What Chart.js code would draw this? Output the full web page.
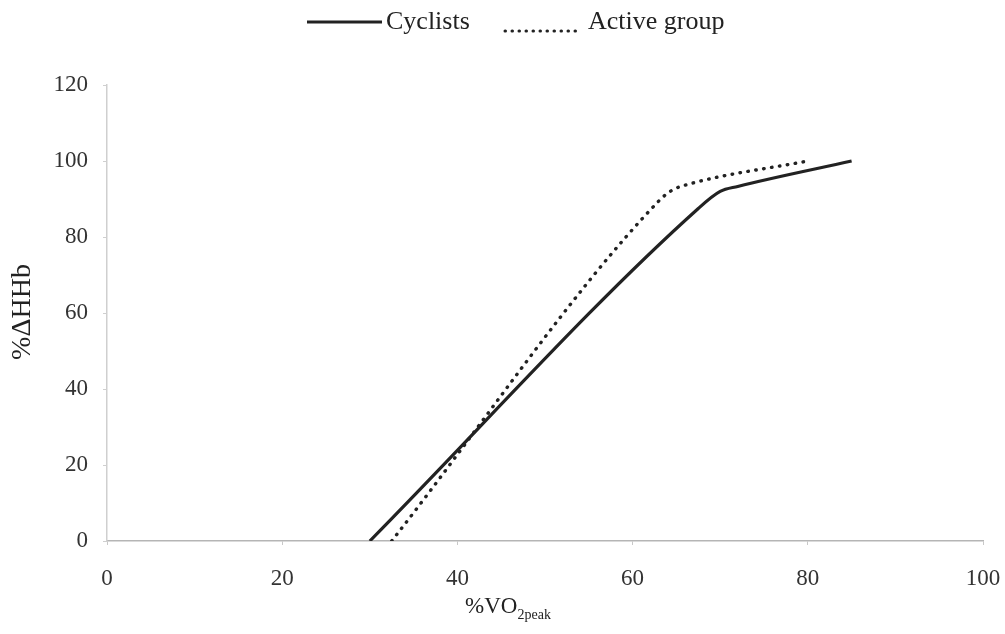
<!DOCTYPE html>
<html>
<head>
<meta charset="utf-8">
<script src="https://cdn.jsdelivr.net/npm/chart.js@4.4.0/dist/chart.umd.min.js"></script>
<style>
  html, body { margin: 0; padding: 0; background: #fff; }
  #wrap { width: 1005px; height: 634px; }
</style>
</head>
<body>
<div id="wrap"><canvas id="grafico"></canvas></div>
<script>
const xTicks = [0, 20, 40, 60, 80, 100];
const yTicks = [0, 20, 40, 60, 80, 100, 120];

const cyclistsX = [30, 67.5, 70, 72, 85];
const cyclistsY = [0, 87.5, 92, 93.3, 100];

const activeX = [32.5, 63, 64.5, 66.4, 80];
const activeY = [0, 89.5, 92.3, 93.9, 100];

const serif = "'Liberation Serif', 'Times New Roman', serif";

function pontos(xs, ys) {
  return xs.map((x, i) => ({ x: x, y: ys[i] }));
}

// legenda e titulos desenhados a mao (subscrito no eixo x)
const extras = {
  id: 'extras',
  afterDraw(chart) {
    const ctx = chart.ctx;
    const ds = chart.data.datasets;
    ctx.save();
    ctx.fillStyle = '#222';
    ctx.strokeStyle = '#222';

    // legenda
    ctx.font = '26px ' + serif;
    ctx.textBaseline = 'middle';
    ctx.lineWidth = 3;
    ctx.beginPath();
    ctx.moveTo(307, 22);
    ctx.lineTo(382, 22);
    ctx.stroke();
    ctx.fillText(ds[0].label, 386, 22);

    ctx.setLineDash([0.5, 6.5]);
    ctx.lineCap = 'round';
    ctx.beginPath();
    ctx.moveTo(505, 31);
    ctx.lineTo(578, 31);
    ctx.stroke();
    ctx.setLineDash([]);
    ctx.fillText(ds[1].label, 588, 22);

    // titulo eixo y
    ctx.save();
    ctx.translate(23, 312);
    ctx.rotate(-Math.PI / 2);
    ctx.textAlign = 'center';
    ctx.font = '28px ' + serif;
    ctx.fillText('%ΔHHb', 0, 0);
    ctx.restore();

    // titulo eixo x
    const big = '23px ' + serif;
    const small = '14px ' + serif;
    ctx.font = big;
    const w1 = ctx.measureText('%VO').width;
    ctx.font = small;
    const w2 = ctx.measureText('2peak').width;
    const x0 = (chart.chartArea.left + chart.chartArea.right) / 2 - 37 - (w1 + w2) / 2;
    ctx.textBaseline = 'alphabetic';
    ctx.font = big;
    ctx.fillText('%VO', x0, 613);
    ctx.font = small;
    ctx.fillText('2peak', x0 + w1, 619);

    ctx.restore();
  }
};

new Chart(document.getElementById('grafico').getContext('2d'), {
  type: 'scatter',
  data: {
    datasets: [{
      label: 'Cyclists',
      data: pontos(cyclistsX, cyclistsY),
      showLine: true,
      borderColor: '#222',
      borderWidth: 3.2,
      pointRadius: 0,
      cubicInterpolationMode: 'monotone'
    }, {
      label: 'Active group',
      data: pontos(activeX, activeY),
      showLine: true,
      borderColor: '#222',
      borderWidth: 3.4,
      borderDash: [0.5, 7.5],
      borderCapStyle: 'round',
      pointRadius: 0,
      cubicInterpolationMode: 'monotone'
    }]
  },
  options: {
    responsive: true,
    maintainAspectRatio: false,
    animation: false,
    layout: { padding: { left: 0, top: 85, right: 22, bottom: 0 } },
    plugins: {
      legend: { display: false },
      tooltip: { enabled: false }
    },
    scales: {
      x: {
        type: 'linear',
        min: 0,
        max: 100,
        afterBuildTicks: (scale) => { scale.ticks = xTicks.map(v => ({ value: v })); },
        afterFit: (scale) => {
          scale.height = 93;
          scale.paddingLeft = 0;
          scale.paddingRight = 0;
        },
        border: { display: true, color: '#b5b5b5', width: 1.5 },
        grid: { drawOnChartArea: false, drawTicks: true, tickLength: 4, color: '#c8c8c8' },
        ticks: { padding: 20, color: '#333', font: { family: serif, size: 23 }, maxRotation: 0 }
      },
      y: {
        type: 'linear',
        min: 0,
        max: 120,
        afterBuildTicks: (scale) => { scale.ticks = yTicks.map(v => ({ value: v })); },
        afterFit: (scale) => {
          scale.width = 107;
          scale.paddingTop = 0;
          scale.paddingBottom = 0;
        },
        border: { display: true, color: '#cfcfcf', width: 1.5 },
        grid: { drawOnChartArea: false, drawTicks: true, tickLength: 4, color: '#cfcfcf' },
        ticks: { padding: 15, color: '#333', font: { family: serif, size: 23 } }
      }
    }
  },
  plugins: [extras]
});
</script>
</body>
</html>
